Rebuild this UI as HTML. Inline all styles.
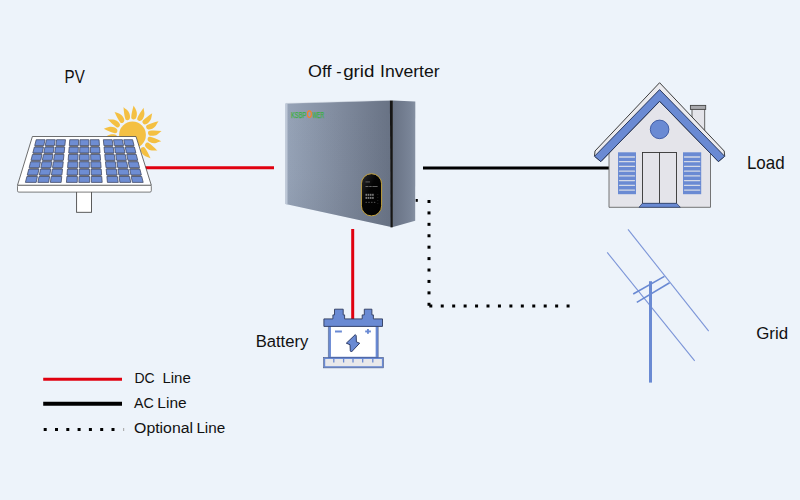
<!DOCTYPE html>
<html><head><meta charset="utf-8">
<style>
html,body{margin:0;padding:0;width:800px;height:500px;overflow:hidden;background:#EDF3FA;}
svg{position:absolute;left:0;top:0;}
text{font-family:"Liberation Sans",sans-serif;fill:#111;}
</style></head><body>
<svg width="800" height="500" viewBox="0 0 800 500">
<defs>
<linearGradient id="invf" x1="0" y1="0" x2="1" y2="0">
<stop offset="0" stop-color="#97A4B8"/><stop offset="0.5" stop-color="#808B9E"/><stop offset="1" stop-color="#687284"/>
</linearGradient>
<linearGradient id="invs" x1="0" y1="0" x2="1" y2="0">
<stop offset="0" stop-color="#687284"/><stop offset="0.8" stop-color="#7A8598"/><stop offset="1" stop-color="#8590A2"/>
</linearGradient>
<linearGradient id="invb" x1="0" y1="0" x2="0" y2="1">
<stop offset="0" stop-color="#5A6472" stop-opacity="0"/><stop offset="0.6" stop-color="#5A6472" stop-opacity="0.2"/><stop offset="1" stop-color="#5A6472" stop-opacity="1"/>
</linearGradient>
<linearGradient id="disp" x1="0" y1="0" x2="1" y2="1">
<stop offset="0" stop-color="#2A2A2E"/><stop offset="0.4" stop-color="#050505"/><stop offset="1" stop-color="#000"/>
</linearGradient>
</defs>
<rect width="800" height="500" fill="#EDF3FA"/>

<!-- lines -->
<line x1="145" y1="167.8" x2="274" y2="167.8" stroke="#E0000F" stroke-width="3"/>
<line x1="423" y1="168" x2="609" y2="168" stroke="#000" stroke-width="3"/>
<line x1="352.7" y1="229" x2="352.7" y2="320" stroke="#E0000F" stroke-width="3"/>

<!-- sun -->
<g id="sun" fill="#F4C043"><path d="M133.59,119.44 C131.99,119.33 131.24,118.67 131.23,117.27 C131.47,113.88 132.35,109.93 133.65,105.61 C133.89,106.53 135,107.91 136.23,110.4 C137.6,113.7 136.71,117.75 135.23,118.95 C134.6,119.31 134.09,119.47 133.59,119.44 Z"/>
<path d="M138.85,120.75 C137.38,120.1 136.9,119.22 137.37,117.9 C138.76,114.8 140.93,111.39 143.64,107.78 C143.54,108.72 144.11,110.4 144.41,113.16 C144.57,116.73 142.36,120.23 140.55,120.85 C139.84,120.97 139.3,120.95 138.85,120.75 Z"/>
<path d="M143.34,123.78 C142.19,122.67 142.03,121.68 142.93,120.6 C145.29,118.16 148.5,115.7 152.28,113.23 C151.87,114.08 151.83,115.85 151.17,118.55 C150.09,121.96 146.81,124.5 144.9,124.46 C144.19,124.33 143.7,124.13 143.34,123.78 Z"/>
<path d="M146.52,128.16 C145.82,126.72 146.01,125.74 147.22,125.04 C150.28,123.55 154.14,122.33 158.53,121.3 C157.85,121.97 157.21,123.62 155.67,125.93 C153.49,128.77 149.54,130.02 147.76,129.34 C147.14,128.97 146.74,128.61 146.52,128.16 Z"/>
<path d="M148.01,133.37 C147.85,131.78 148.36,130.92 149.74,130.67 C153.12,130.32 157.16,130.5 161.64,131.03 C160.78,131.42 159.61,132.75 157.37,134.4 C154.36,136.32 150.22,136.15 148.78,134.9 C148.32,134.34 148.07,133.87 148.01,133.37 Z"/>
<path d="M147.64,138.77 C148.02,137.22 148.8,136.59 150.18,136.83 C153.48,137.65 157.22,139.2 161.24,141.24 C160.3,141.31 158.75,142.16 156.08,142.94 C152.59,143.72 148.75,142.14 147.83,140.47 C147.59,139.79 147.52,139.26 147.64,138.77 Z"/>
<path d="M145.43,143.72 C146.33,142.4 147.27,142.07 148.49,142.77 C151.31,144.67 154.29,147.4 157.38,150.69 C156.46,150.44 154.71,150.71 151.94,150.53 C148.39,150.06 145.33,147.27 145.04,145.39 C145.04,144.66 145.15,144.14 145.43,143.72 Z"/>
<path d="M141.67,147.62 C142.96,146.68 143.96,146.7 144.87,147.77 C146.87,150.52 148.73,154.11 150.51,158.26 C149.74,157.7 148,157.36 145.46,156.24 C142.28,154.59 140.36,150.92 140.73,149.05 C140.98,148.37 141.26,147.91 141.67,147.62 Z"/>
<path d="M136.8,150 C138.34,149.55 139.27,149.91 139.75,151.23 C140.69,154.5 141.22,158.51 141.47,163.01 C140.93,162.23 139.42,161.31 137.41,159.39 C134.99,156.76 134.44,152.65 135.43,151.01 C135.89,150.46 136.32,150.13 136.8,150 Z"/>
<path d="M131.41,150.56 C133.01,150.67 133.76,151.33 133.77,152.73 C133.53,156.12 132.65,160.07 131.35,164.39 C131.11,163.47 130,162.09 128.77,159.6 C127.4,156.3 128.29,152.25 129.77,151.05 C130.4,150.69 130.91,150.53 131.41,150.56 Z"/>
<path d="M126.15,149.25 C127.62,149.9 128.1,150.78 127.63,152.1 C126.24,155.2 124.07,158.61 121.36,162.22 C121.46,161.28 120.89,159.6 120.59,156.84 C120.43,153.27 122.64,149.77 124.45,149.15 C125.16,149.03 125.7,149.05 126.15,149.25 Z"/>
<path d="M121.66,146.22 C122.81,147.33 122.97,148.32 122.07,149.4 C119.71,151.84 116.5,154.3 112.72,156.77 C113.13,155.92 113.17,154.15 113.83,151.45 C114.91,148.04 118.19,145.5 120.1,145.54 C120.81,145.67 121.3,145.87 121.66,146.22 Z"/>
<path d="M118.48,141.84 C119.18,143.28 118.99,144.26 117.78,144.96 C114.72,146.45 110.86,147.67 106.47,148.7 C107.15,148.03 107.79,146.38 109.33,144.07 C111.51,141.23 115.46,139.98 117.24,140.66 C117.86,141.03 118.26,141.39 118.48,141.84 Z"/>
<path d="M116.99,136.63 C117.15,138.22 116.64,139.08 115.26,139.33 C111.88,139.68 107.84,139.5 103.36,138.97 C104.22,138.58 105.39,137.25 107.63,135.6 C110.64,133.68 114.78,133.85 116.22,135.1 C116.68,135.66 116.93,136.13 116.99,136.63 Z"/>
<path d="M117.36,131.23 C116.98,132.78 116.2,133.41 114.82,133.17 C111.52,132.35 107.78,130.8 103.76,128.76 C104.7,128.69 106.25,127.84 108.92,127.06 C112.41,126.28 116.25,127.86 117.17,129.53 C117.41,130.21 117.48,130.74 117.36,131.23 Z"/>
<path d="M119.57,126.28 C118.67,127.6 117.73,127.93 116.51,127.23 C113.69,125.33 110.71,122.6 107.62,119.31 C108.54,119.56 110.29,119.29 113.06,119.47 C116.61,119.94 119.67,122.73 119.96,124.61 C119.96,125.34 119.85,125.86 119.57,126.28 Z"/>
<path d="M123.33,122.38 C122.04,123.32 121.04,123.3 120.13,122.23 C118.13,119.48 116.27,115.89 114.49,111.74 C115.26,112.3 117,112.64 119.54,113.76 C122.72,115.41 124.64,119.08 124.27,120.95 C124.02,121.63 123.74,122.09 123.33,122.38 Z"/>
<path d="M128.2,120 C126.66,120.45 125.73,120.09 125.25,118.77 C124.31,115.5 123.78,111.49 123.53,106.99 C124.07,107.77 125.58,108.69 127.59,110.61 C130.01,113.24 130.56,117.35 129.57,118.99 C129.11,119.54 128.68,119.87 128.2,120 Z"/></g>
<circle cx="132.5" cy="135.0" r="13.4" fill="#F4C043"/>

<!-- solar panel -->
<rect x="76.6" y="190" width="14.9" height="22.3" fill="#fff" stroke="#4A4A4A" stroke-width="0.9"/>
<rect x="17.5" y="185" width="133.8" height="7.1" rx="1.3" fill="#fff" stroke="#5A5A5A" stroke-width="0.8"/>
<polygon points="32.4,136.5 136,136.5 151.3,185.2 17.5,185.2" fill="#fff" stroke="#4A4A4A" stroke-width="0.8" stroke-linejoin="round"/>
<g id="cells" fill="#6E8DD3" stroke="#3E4660" stroke-width="0.75" stroke-linejoin="round"><g fill="#96918B" stroke="none"><polygon points="35.1,145.62 43.42,145.62 43.12,147.06 34.74,147.06"/>
<polygon points="45.63,145.62 53.95,145.62 53.72,147.06 45.35,147.06"/>
<polygon points="56.16,145.62 64.48,145.62 64.33,147.06 55.95,147.06"/>
<polygon points="69.7,145.62 78.02,145.62 77.97,147.06 69.59,147.06"/>
<polygon points="80.23,145.62 88.55,145.62 88.57,147.06 80.19,147.06"/>
<polygon points="90.76,145.62 99.08,145.62 99.18,147.06 90.8,147.06"/>
<polygon points="104.29,145.62 112.61,145.62 112.81,147.06 104.43,147.06"/>
<polygon points="114.82,145.62 123.14,145.62 123.42,147.06 115.04,147.06"/>
<polygon points="125.35,145.62 133.67,145.62 134.03,147.06 125.65,147.06"/>
<polygon points="33.25,152.98 41.88,152.98 41.58,154.41 32.89,154.41"/>
<polygon points="44.17,152.98 52.8,152.98 52.58,154.41 43.89,154.41"/>
<polygon points="55.09,152.98 63.72,152.98 63.57,154.41 54.89,154.41"/>
<polygon points="69.13,152.98 77.76,152.98 77.71,154.41 69.03,154.41"/>
<polygon points="80.06,152.98 88.68,152.98 88.71,154.41 80.02,154.41"/>
<polygon points="90.98,152.98 99.6,152.98 99.71,154.41 91.02,154.41"/>
<polygon points="105.02,152.98 113.64,152.98 113.84,154.41 105.16,154.41"/>
<polygon points="115.94,152.98 124.56,152.98 124.84,154.41 116.15,154.41"/>
<polygon points="126.86,152.98 135.48,152.98 135.84,154.41 127.15,154.41"/>
<polygon points="31.41,160.33 40.34,160.33 40.05,161.77 31.05,161.77"/>
<polygon points="42.72,160.33 51.66,160.33 51.43,161.77 42.44,161.77"/>
<polygon points="54.03,160.33 62.97,160.33 62.82,161.77 53.82,161.77"/>
<polygon points="68.57,160.33 77.51,160.33 77.46,161.77 68.46,161.77"/>
<polygon points="79.88,160.33 88.82,160.33 88.85,161.77 79.85,161.77"/>
<polygon points="91.19,160.33 100.13,160.33 100.23,161.77 91.24,161.77"/>
<polygon points="105.74,160.33 114.67,160.33 114.87,161.77 105.88,161.77"/>
<polygon points="117.05,160.33 125.98,160.33 126.26,161.77 117.26,161.77"/>
<polygon points="128.36,160.33 137.3,160.33 137.65,161.77 128.65,161.77"/>
<polygon points="29.56,167.69 38.81,167.69 38.51,169.12 29.2,169.12"/>
<polygon points="41.26,167.69 50.51,167.69 50.29,169.12 40.98,169.12"/>
<polygon points="52.97,167.69 62.21,167.69 62.06,169.12 52.76,169.12"/>
<polygon points="68.01,167.69 77.26,167.69 77.21,169.12 67.9,169.12"/>
<polygon points="79.71,167.69 88.96,167.69 88.98,169.12 79.68,169.12"/>
<polygon points="91.41,167.69 100.66,167.69 100.76,169.12 91.46,169.12"/>
<polygon points="106.46,167.69 115.7,167.69 115.9,169.12 106.6,169.12"/>
<polygon points="118.16,167.69 127.4,167.69 127.68,169.12 118.38,169.12"/>
<polygon points="129.86,167.69 139.11,167.69 139.46,169.12 130.15,169.12"/>
<polygon points="27.72,175.04 37.27,175.04 36.97,176.48 27.36,176.48"/>
<polygon points="39.81,175.04 49.36,175.04 49.14,176.48 39.53,176.48"/>
<polygon points="51.9,175.04 61.45,175.04 61.31,176.48 51.69,176.48"/>
<polygon points="67.45,175.04 77,175.04 76.95,176.48 67.34,176.48"/>
<polygon points="79.54,175.04 89.09,175.04 89.12,176.48 79.51,176.48"/>
<polygon points="91.63,175.04 101.19,175.04 101.29,176.48 91.68,176.48"/>
<polygon points="107.18,175.04 116.73,175.04 116.93,176.48 107.32,176.48"/>
<polygon points="119.27,175.04 128.83,175.04 129.1,176.48 119.49,176.48"/>
<polygon points="131.36,175.04 140.92,175.04 141.27,176.48 131.66,176.48"/></g><polygon points="36.2,139.7 45.04,139.7 43.82,145.62 34.7,145.62"/>
<polygon points="46.42,139.7 55.26,139.7 54.35,145.62 45.23,145.62"/>
<polygon points="56.63,139.7 65.47,139.7 64.88,145.62 55.76,145.62"/>
<polygon points="69.76,139.7 78.61,139.7 78.41,145.62 69.3,145.62"/>
<polygon points="79.98,139.7 88.82,139.7 88.94,145.62 79.83,145.62"/>
<polygon points="90.19,139.7 99.04,139.7 99.47,145.62 90.36,145.62"/>
<polygon points="103.33,139.7 112.17,139.7 113.01,145.62 103.9,145.62"/>
<polygon points="113.54,139.7 122.38,139.7 123.54,145.62 114.43,145.62"/>
<polygon points="123.76,139.7 132.6,139.7 134.07,145.62 124.96,145.62"/>
<polygon points="34.34,147.06 43.52,147.06 42.29,152.98 32.84,152.98"/>
<polygon points="44.95,147.06 54.13,147.06 53.21,152.98 43.76,152.98"/>
<polygon points="55.55,147.06 64.73,147.06 64.13,152.98 54.68,152.98"/>
<polygon points="69.19,147.06 78.37,147.06 78.17,152.98 68.72,152.98"/>
<polygon points="79.79,147.06 88.97,147.06 89.09,152.98 79.64,152.98"/>
<polygon points="90.4,147.06 99.58,147.06 100.02,152.98 90.56,152.98"/>
<polygon points="104.03,147.06 113.21,147.06 114.06,152.98 104.6,152.98"/>
<polygon points="114.64,147.06 123.82,147.06 124.98,152.98 115.52,152.98"/>
<polygon points="125.25,147.06 134.43,147.06 135.9,152.98 126.44,152.98"/>
<polygon points="32.48,154.41 42,154.41 40.77,160.33 30.98,160.33"/>
<polygon points="43.48,154.41 52.99,154.41 52.08,160.33 42.29,160.33"/>
<polygon points="54.47,154.41 63.99,154.41 63.39,160.33 53.6,160.33"/>
<polygon points="68.61,154.41 78.13,154.41 77.94,160.33 68.15,160.33"/>
<polygon points="79.61,154.41 89.12,154.41 89.25,160.33 79.46,160.33"/>
<polygon points="90.6,154.41 100.12,154.41 100.56,160.33 90.77,160.33"/>
<polygon points="104.74,154.41 114.26,154.41 115.1,160.33 105.31,160.33"/>
<polygon points="115.74,154.41 125.26,154.41 126.41,160.33 116.62,160.33"/>
<polygon points="126.73,154.41 136.25,154.41 137.72,160.33 127.93,160.33"/>
<polygon points="30.62,161.77 40.47,161.77 39.25,167.69 29.12,167.69"/>
<polygon points="42.01,161.77 51.86,161.77 50.95,167.69 40.82,167.69"/>
<polygon points="53.39,161.77 63.25,161.77 62.65,167.69 52.52,167.69"/>
<polygon points="68.03,161.77 77.89,161.77 77.7,167.69 67.57,167.69"/>
<polygon points="79.42,161.77 89.28,161.77 89.4,167.69 79.27,167.69"/>
<polygon points="90.81,161.77 100.66,161.77 101.1,167.69 90.97,167.69"/>
<polygon points="105.45,161.77 115.3,161.77 116.15,167.69 106.02,167.69"/>
<polygon points="116.83,161.77 126.69,161.77 127.85,167.69 117.72,167.69"/>
<polygon points="128.22,161.77 138.08,161.77 139.55,167.69 129.42,167.69"/>
<polygon points="28.76,169.12 38.95,169.12 37.73,175.04 27.26,175.04"/>
<polygon points="40.54,169.12 50.73,169.12 49.82,175.04 39.35,175.04"/>
<polygon points="52.31,169.12 62.51,169.12 61.91,175.04 51.44,175.04"/>
<polygon points="67.46,169.12 77.65,169.12 77.46,175.04 66.99,175.04"/>
<polygon points="79.23,169.12 89.43,169.12 89.55,175.04 79.08,175.04"/>
<polygon points="91.01,169.12 101.21,169.12 101.64,175.04 91.18,175.04"/>
<polygon points="106.15,169.12 116.35,169.12 117.19,175.04 106.72,175.04"/>
<polygon points="117.93,169.12 128.13,169.12 129.28,175.04 118.82,175.04"/>
<polygon points="129.71,169.12 139.9,169.12 141.37,175.04 130.91,175.04"/>
<polygon points="26.9,176.48 37.43,176.48 36.2,182.4 25.4,182.4"/>
<polygon points="39.07,176.48 49.6,176.48 48.69,182.4 37.88,182.4"/>
<polygon points="51.23,176.48 61.77,176.48 61.17,182.4 50.37,182.4"/>
<polygon points="66.88,176.48 77.41,176.48 77.22,182.4 66.41,182.4"/>
<polygon points="79.05,176.48 89.58,176.48 89.7,182.4 78.9,182.4"/>
<polygon points="91.22,176.48 101.75,176.48 102.19,182.4 91.38,182.4"/>
<polygon points="106.86,176.48 117.39,176.48 118.23,182.4 107.43,182.4"/>
<polygon points="119.03,176.48 129.56,176.48 130.72,182.4 119.91,182.4"/>
<polygon points="131.2,176.48 141.73,176.48 143.2,182.4 132.4,182.4"/></g>

<!-- inverter -->
<polygon points="285.5,103.6 390,100.4 391.2,227 285.5,204" fill="url(#invf)"/>
<polygon points="285.5,103.6 390,100.4 391.2,227 285.5,204" fill="url(#invb)" opacity="0.12"/>
<polygon points="285.5,103.6 287.5,103.5 287.5,204.4 285.5,204" fill="#C2CCDA" opacity="0.9"/>
<polygon points="393,100.4 415.3,101.5 415.2,220.8 393,227" fill="url(#invs)"/>
<polygon points="389.9,100.4 392.9,100.4 392.9,227.2 390.6,227.4" fill="#161616"/>
<line x1="286" y1="103.4" x2="390" y2="100.3" stroke="#C9D0DA" stroke-width="0.6" opacity="0.7"/>
<rect x="361.4" y="173.7" width="20.2" height="42.2" rx="10.1" fill="url(#disp)" stroke="#C9A53C" stroke-width="0.95"/>
<g fill="#C8C8C8" opacity="0.6">
<rect x="365.5" y="181.6" width="4.5" height="0.7"/>
<rect x="365.5" y="186" width="3" height="0.8"/><rect x="369.2" y="186" width="2.5" height="0.8"/><rect x="372.4" y="186" width="5.2" height="0.8"/>
<rect x="365.5" y="193.8" width="1.6" height="2"/><rect x="367.7" y="193.8" width="1.6" height="2"/><rect x="369.9" y="193.8" width="1.6" height="2"/><rect x="372.1" y="193.8" width="1.6" height="2"/>
<rect x="365.5" y="196.9" width="1.6" height="2"/><rect x="367.7" y="196.9" width="1.6" height="2"/><rect x="369.9" y="196.9" width="1.6" height="2"/><rect x="372.1" y="196.9" width="1.6" height="2"/>
<rect x="365.5" y="201.8" width="1.4" height="1.2" opacity="0.6"/>
<rect x="368.3" y="201.8" width="1.4" height="1.2" opacity="0.6"/>
<rect x="371.1" y="201.8" width="1.4" height="1.2" opacity="0.6"/>
<rect x="373.9" y="201.8" width="1.4" height="1.2" opacity="0.6"/>
<rect x="377.2" y="194" width="1.1" height="0.5" opacity="0.5"/>
<rect x="377.2" y="197" width="1.1" height="0.5" opacity="0.5"/>
<rect x="377.2" y="200" width="1.1" height="0.5" opacity="0.5"/>
<rect x="377.2" y="203" width="1.1" height="0.5" opacity="0.5"/>
</g>
<text x="291" y="118.4" font-size="8.5" style="fill:#3CB043" stroke="#3CB043" stroke-width="0.25" textLength="15.4" lengthAdjust="spacingAndGlyphs">KSBP</text>
<ellipse cx="309.4" cy="114.1" rx="1.9" ry="3.3" fill="#8AA0C0" stroke="#F5822A" stroke-width="1.3"/>
<text x="312.4" y="118.4" font-size="8.5" style="fill:#3CB043" stroke="#3CB043" stroke-width="0.25" textLength="11.6" lengthAdjust="spacingAndGlyphs">WER</text>

<!-- dotted -->
<g id="dots" fill="#000"><rect x="415.7" y="199" width="2.1" height="2.8"/><rect x="427.5" y="200" width="3" height="3"/>
<rect x="427.5" y="211.42" width="3" height="3"/>
<rect x="427.5" y="222.84" width="3" height="3"/>
<rect x="427.5" y="234.26" width="3" height="3"/>
<rect x="427.5" y="245.68" width="3" height="3"/>
<rect x="427.5" y="257.1" width="3" height="3"/>
<rect x="427.5" y="268.52" width="3" height="3"/>
<rect x="427.5" y="279.94" width="3" height="3"/>
<rect x="427.5" y="291.36" width="3" height="3"/>
<rect x="427.5" y="302.78" width="3" height="3"/>
<rect x="429.3" y="304.5" width="3" height="3"/>
<rect x="440.74" y="304.5" width="3" height="3"/>
<rect x="452.18" y="304.5" width="3" height="3"/>
<rect x="463.62" y="304.5" width="3" height="3"/>
<rect x="475.06" y="304.5" width="3" height="3"/>
<rect x="486.5" y="304.5" width="3" height="3"/>
<rect x="497.94" y="304.5" width="3" height="3"/>
<rect x="509.38" y="304.5" width="3" height="3"/>
<rect x="520.82" y="304.5" width="3" height="3"/>
<rect x="532.26" y="304.5" width="3" height="3"/>
<rect x="543.7" y="304.5" width="3" height="3"/>
<rect x="555.14" y="304.5" width="3" height="3"/>
<rect x="566.58" y="304.5" width="3" height="3"/>
<rect x="43.7" y="428" width="3" height="3"/>
<rect x="55" y="428" width="3" height="3"/>
<rect x="66.3" y="428" width="3" height="3"/>
<rect x="77.6" y="428" width="3" height="3"/>
<rect x="88.9" y="428" width="3" height="3"/>
<rect x="100.2" y="428" width="3" height="3"/>
<rect x="111.5" y="428" width="3" height="3"/></g>

<!-- house -->
<g id="house">
<!-- chimney -->
<rect x="692" y="108" width="12.7" height="24" fill="#E4E4EA" stroke="#555" stroke-width="0.9"/>
<rect x="690.4" y="105.4" width="15.3" height="4" fill="#A8A8AC" stroke="#444" stroke-width="0.9"/>
<!-- body -->
<polygon points="609,152 659.6,101.4 710.5,152 710.5,207.3 609,207.3" fill="#E4E4EA" stroke="#666" stroke-width="0.9"/>
<!-- roof white -->
<polygon points="659.6,82.7 724.2,151 724.7,156 718.4,161.6 659.6,101.4 600.8,161.6 594.5,156 595,151" fill="#EBEBEF" stroke="#333" stroke-width="0.95" stroke-linejoin="round"/>
<!-- roof blue -->
<polygon points="659.6,89.6 724.7,156.3 718.4,161.6 659.6,101.2 600.8,161.6 594.5,156.3" fill="#6A8AD3" stroke="#2A3A60" stroke-width="1"/>
<circle cx="659.6" cy="129.4" r="9.3" fill="#6A8AD3" stroke="#3A56A0" stroke-width="0.9"/>
<!-- shutters -->
<rect x="618" y="152.3" width="18" height="41.9" fill="#6A8AD3"/>
<rect x="683" y="152.3" width="18.2" height="41.9" fill="#6A8AD3"/>
<g stroke="#D4D9E6" stroke-width="1.3" stroke-linecap="round">
<line x1="619.5" y1="157.00" x2="634.5" y2="157.00"/>
<line x1="684.5" y1="157.00" x2="699.7" y2="157.00"/>
<line x1="619.5" y1="161.72" x2="634.5" y2="161.72"/>
<line x1="684.5" y1="161.72" x2="699.7" y2="161.72"/>
<line x1="619.5" y1="166.44" x2="634.5" y2="166.44"/>
<line x1="684.5" y1="166.44" x2="699.7" y2="166.44"/>
<line x1="619.5" y1="171.16" x2="634.5" y2="171.16"/>
<line x1="684.5" y1="171.16" x2="699.7" y2="171.16"/>
<line x1="619.5" y1="175.88" x2="634.5" y2="175.88"/>
<line x1="684.5" y1="175.88" x2="699.7" y2="175.88"/>
<line x1="619.5" y1="180.60" x2="634.5" y2="180.60"/>
<line x1="684.5" y1="180.60" x2="699.7" y2="180.60"/>
<line x1="619.5" y1="185.32" x2="634.5" y2="185.32"/>
<line x1="684.5" y1="185.32" x2="699.7" y2="185.32"/>
<line x1="619.5" y1="190.04" x2="634.5" y2="190.04"/>
<line x1="684.5" y1="190.04" x2="699.7" y2="190.04"/>
</g>
<!-- door -->
<rect x="642.5" y="152.5" width="34" height="51" fill="#E4E4EA" stroke="#333" stroke-width="0.9"/>
<line x1="659.5" y1="152.3" x2="659.5" y2="204" stroke="#333" stroke-width="0.9"/>
<polygon points="642.4,203.3 676.6,203.3 680.3,207.3 639,207.3" fill="#6A8AD3" stroke="#2A3A60" stroke-width="0.7" stroke-linejoin="round"/>
</g>

<!-- grid -->
<g fill="none">
<line x1="628" y1="229.4" x2="708.7" y2="331.1" stroke="#7C95D8" stroke-width="1.1"/>
<line x1="607.2" y1="252.4" x2="694.7" y2="360.9" stroke="#7C95D8" stroke-width="1.1"/>
<line x1="650.5" y1="281.2" x2="650.5" y2="382.6" stroke="#6A8AD3" stroke-width="3"/>
<line x1="633.2" y1="294" x2="664.4" y2="276.4" stroke="#6A8AD3" stroke-width="1.6"/>
<line x1="636.8" y1="302.4" x2="669.6" y2="282.8" stroke="#6A8AD3" stroke-width="1.6"/>
</g>

<!-- battery -->
<g id="battery">
<rect x="329.7" y="325" width="47.2" height="33" fill="#fff" stroke="#6A8AD3" stroke-width="2.5"/>
<path d="M328.4,326.5 V357.5 M378.3,326.5 V357.5" stroke="#3A4A78" stroke-width="0.5" fill="none"/>
<path d="M323.9,318.9 H332.9 V314.9 H334.5 V309.2 H343.2 V314.9 H344.6 V318.9 H362.2 V314.9 H364.3 V309.2 H371.9 V314.9 H373.4 V318.9 H382.5 V326.4 H323.9 Z" fill="#6A8AD3" stroke="#2E3A5E" stroke-width="0.9" stroke-linejoin="round"/>
<rect x="324.4" y="358.2" width="58.3" height="8.8" fill="#E8E8EA" stroke="#6A8AD3" stroke-width="1.6"/>
<rect x="323.5" y="357.3" width="60.1" height="10.6" fill="none" stroke="#3A4A78" stroke-width="0.5"/>
<g stroke="#6A8AD3" stroke-width="1.3">
<line x1="333.8" y1="358.5" x2="333.8" y2="362.5"/><line x1="343.6" y1="358.5" x2="343.6" y2="362.5"/><line x1="353" y1="358.5" x2="353" y2="362.5"/><line x1="362.7" y1="358.5" x2="362.7" y2="362.5"/><line x1="372.8" y1="358.5" x2="372.8" y2="362.5"/>
</g>
<rect x="335" y="330.5" width="6.9" height="2" fill="#6A8AD3"/>
<rect x="365.2" y="330.5" width="5.7" height="1.9" fill="#6A8AD3"/>
<rect x="367" y="329" width="1.9" height="4.8" fill="#6A8AD3"/>
<polygon points="355.3,334.6 356.2,335.7 356.4,341.9 359.7,343.2 351.4,352 350.3,350.9 350,344.7 346.3,343.2" fill="#6A8AD3" stroke="#22305A" stroke-width="0.9" stroke-linejoin="round"/>
</g>

<!-- legend -->
<rect x="123" y="428" width="1.2" height="3" fill="#B0B0B0"/>
<line x1="43.2" y1="379.2" x2="122" y2="379.2" stroke="#E0000F" stroke-width="3"/>
<line x1="43.2" y1="403.8" x2="122" y2="403.8" stroke="#000" stroke-width="4"/>

<!-- texts -->
<text x="64.59" y="82.8" font-size="18.6" textLength="20.17" lengthAdjust="spacingAndGlyphs">PV</text>
<text x="308" y="76.7" font-size="17.4" textLength="23.62" lengthAdjust="spacingAndGlyphs">Off</text>
<text x="336.26" y="76.7" font-size="17.4" textLength="5.33" lengthAdjust="spacingAndGlyphs">-</text>
<text x="343.15" y="76.7" font-size="17.4" textLength="31.32" lengthAdjust="spacingAndGlyphs">grid</text>
<text x="380.02" y="76.6" font-size="17.4" textLength="59.64" lengthAdjust="spacingAndGlyphs">Inverter</text>
<text x="746.95" y="168.8" font-size="18.5" textLength="37.65" lengthAdjust="spacingAndGlyphs">Load</text>
<text x="756.16" y="339" font-size="17.2" textLength="31.91" lengthAdjust="spacingAndGlyphs">Grid</text>
<text x="255.67" y="347.3" font-size="17.1" textLength="52.66" lengthAdjust="spacingAndGlyphs">Battery</text>
<text x="134.48" y="382.6" font-size="15.3" textLength="20.24" lengthAdjust="spacingAndGlyphs">DC</text>
<text x="162.4" y="382.6" font-size="15.3" textLength="28.41" lengthAdjust="spacingAndGlyphs">Line</text>
<text x="134.1" y="407.9" font-size="15.3" textLength="19.76" lengthAdjust="spacingAndGlyphs">AC</text>
<text x="157.36" y="407.9" font-size="15.3" textLength="29.27" lengthAdjust="spacingAndGlyphs">Line</text>
<text x="134.11" y="432.8" font-size="15.3" textLength="58.91" lengthAdjust="spacingAndGlyphs">Optional</text>
<text x="196.38" y="432.8" font-size="15.3" textLength="28.84" lengthAdjust="spacingAndGlyphs">Line</text>
</svg>
</body></html>
